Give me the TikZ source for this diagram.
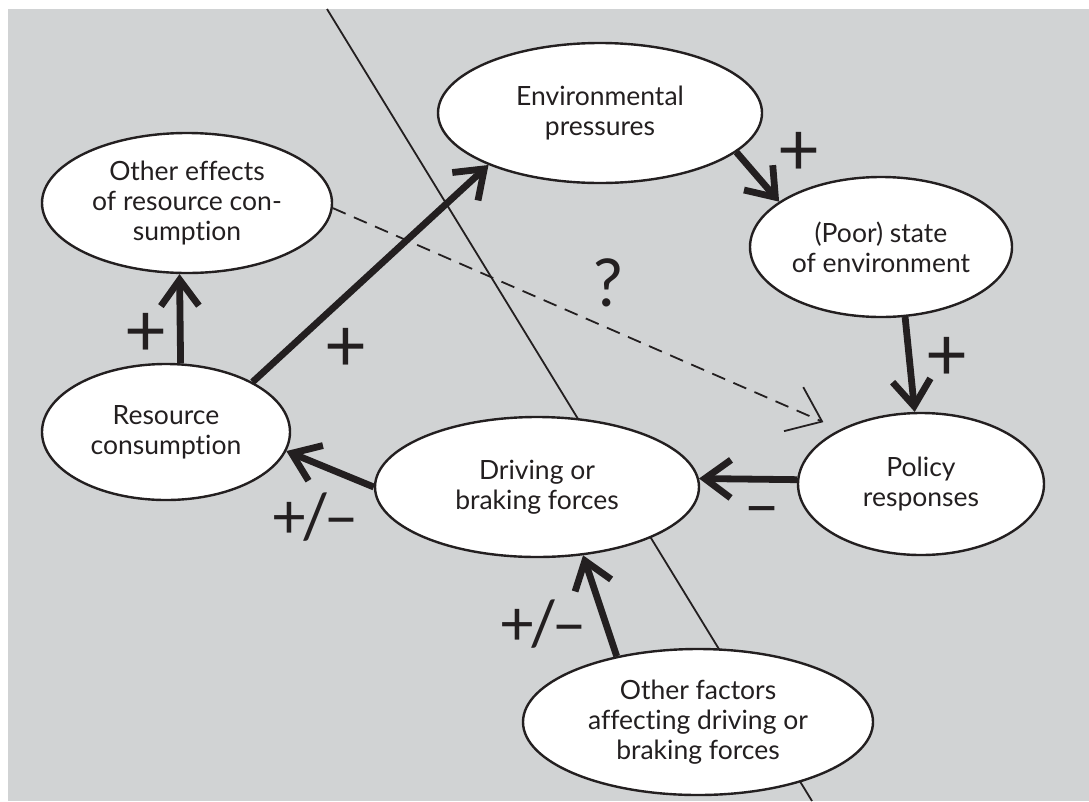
\documentclass[tikz,border=0pt]{standalone}
\usepackage{fontspec}
\setmainfont{Lato}[Ligatures={NoCommon,NoContextual}]
\usetikzlibrary{shapes.geometric,arrows.meta}
\definecolor{bg}{HTML}{D1D3D4}
\definecolor{ink}{HTML}{231F20}
\tikzset{
  blob/.style={ellipse,draw=ink,line width=2.4pt,fill=white,inner sep=0pt,align=center,
    text=ink,font=\fontsize{26.5}{30}\selectfont},
  link/.style={draw=ink,line width=6.8pt,-{Straight Barb[length=26pt,width=38pt]}},
  sign/.style={text=ink,inner sep=0pt,font=\fontsize{74}{74}\selectfont},
  pm/.style={text=ink,inner sep=0pt,font=\fontsize{62}{62}\selectfont},
}
\newcommand{\plusminus}{+\kern-6pt/\kern-6pt–}
\begin{document}
\begin{tikzpicture}[x=1pt,y=-1pt]
\useasboundingbox (0,0) rectangle (1089,801);
\fill[bg] (8,9) rectangle (1089,801);

% dividing line, behind the ellipses
\coordinate (top) at (327,9);
\coordinate (bot) at (812,801);
\draw[ink,line width=1.8pt] (top) -- (bot);

\node[blob,minimum width=290pt,minimum height=140pt] (effects) at (187,203) {Other effects\\of resource con-\\sumption};
\node[blob,minimum width=324pt,minimum height=140pt] (env) at (600,113) {Environmental\\pressures};
\node[blob,minimum width=262pt,minimum height=140pt] (state) at (881,247) {(Poor) state\\of environment};
\node[blob,minimum width=248pt,minimum height=136pt] (res) at (166,432) {Resource\\consumption};
\node[blob,minimum width=324pt,minimum height=140pt] (drive) at (537,487) {Driving or\\braking forces};
\node[blob,minimum width=246pt,minimum height=142pt] (policy) at (921,484) {Policy\\responses};
\node[blob,minimum width=350pt,minimum height=146pt] (factors) at (698,722) {Other factors\\affecting driving or\\braking forces};

\draw[link] (res.78) -- (effects.264);
\draw[link] (res.30) -- (env.205);
\draw[link] (env.344) -- (state.156);
\draw[link] (state.289) -- (policy.95);
\draw[link] (policy.178) -- (drive.3);
\draw[link] (drive.180) -- (res.351);
\draw[link] (factors.141) -- (drive.304);
\draw[ink,line width=1.8pt,dash pattern=on 14pt off 9pt,shorten >=18pt,
  -{Straight Barb[length=31pt,width=48pt]}] (effects.-2) -- (policy.146);

% signs
\node[sign] (s1) at (146,335) {+};
\node[sign] (s2) at (346,350) {+};
\node[sign] (s3) at (799,154) {+};
\node[sign] (s4) at (947,359) {+};
\node[sign,font=\fontsize{64}{64}\selectfont] (s5) at (762,517) {–};
\node[pm] (s6) at (315,517) {\plusminus};
\node[pm] (s7) at (543,624) {\plusminus};
\node[sign,font=\fontsize{66}{66}\selectfont] (q) at (608,283) {?};
\end{tikzpicture}
\end{document}
